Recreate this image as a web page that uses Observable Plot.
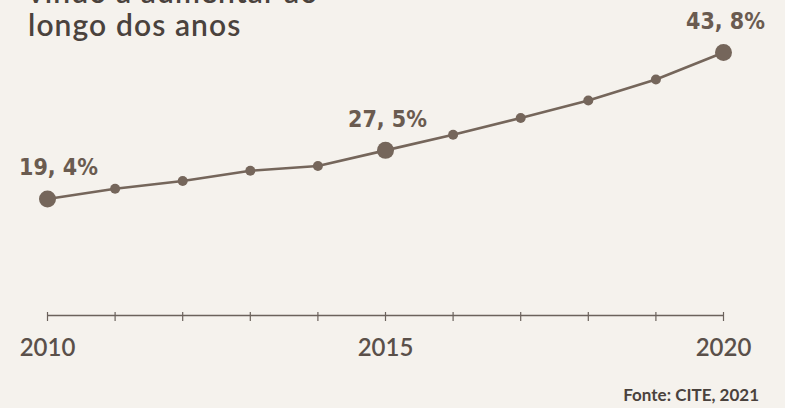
<!DOCTYPE html>
<html>
<head>
<meta charset="utf-8">
<script src="https://cdn.jsdelivr.net/npm/d3@7"></script>
<script src="https://cdn.jsdelivr.net/npm/@observablehq/plot@0.6"></script>
<style>
  html, body { margin: 0; padding: 0; background: #f5f2ed; }
  #wrap { position: relative; width: 785px; height: 408px; overflow: hidden; background: #f5f2ed; }
  #title { position: absolute; left: 28px; top: -25px; font-family: Lato, "Open Sans", sans-serif; font-weight: 600;
           font-size: 30px; line-height: 33px; letter-spacing: 1.1px; color: #4a423d; white-space: nowrap; }
  #caption { position: absolute; right: 26px; top: 384px; font-family: Lato, "Open Sans", sans-serif; font-weight: 700;
             font-size: 17px; color: #4a423d; white-space: nowrap; }
  #chart { position: absolute; left: 0; top: 0; }
</style>
</head>
<body>
<div id="wrap">
  <div id="chart"></div>
  <div id="title">vindo a aumentar ao<br>longo dos anos</div>
  <div id="caption">Fonte: CITE, 2021</div>
</div>
<script>
const years = [2010, 2011, 2012, 2013, 2014, 2015, 2016, 2017, 2018, 2019, 2020];
const values = [19.4, 21.1, 22.4, 24.1, 24.9, 27.5, 30.1, 32.9, 35.8, 39.3, 43.8];
const highlightYears = [2010, 2015, 2020];
const labelTexts = ["19, 4%", "27, 5%", "43, 8%"];
const tickLabels = [2010, 2015, 2020];

const data = years.map((year, i) => ({year, value: values[i]}));
const highlights = highlightYears.map((year, i) => ({year, value: values[years.indexOf(year)], label: labelTexts[i]}));
const minor = data.filter(d => !highlightYears.includes(d.year));

const brown = "#75665b";
const labelColor = "#6a5b50";
const labelFont = '"DejaVu Sans Condensed", "DejaVu Sans", sans-serif';

const chart = Plot.plot({
  width: 785,
  height: 408,
  marginLeft: 47,
  marginRight: 62,
  marginTop: 52,
  marginBottom: 93,
  style: {background: "transparent", fontFamily: "Lato, sans-serif"},
  x: {type: "linear", domain: [2010, 2020], axis: null},
  y: {domain: [0, 43.8], axis: null},
  marks: [
    Plot.ruleY([0], {x1: 2010, x2: 2020, stroke: "#6b625c", strokeWidth: 1.5}),
    Plot.axisX({ticks: years, tickSize: 9, dy: -3, tickFormat: () => "", label: null, stroke: "#6b625c", strokeWidth: 1.2}),
    Plot.axisX({ticks: tickLabels, tickSize: 0, tickPadding: 23, tickFormat: d => String(d), label: null,
                fontSize: 24, fontWeight: 600, fill: "#5a504a", fontFamily: "Lato, sans-serif"}),
    Plot.line(data, {x: "year", y: "value", stroke: brown, strokeWidth: 2.6}),
    Plot.dot(minor, {x: "year", y: "value", r: 5, fill: brown}),
    Plot.dot(highlights, {x: "year", y: "value", r: 8.5, fill: brown}),
    Plot.text(highlights.filter(d => d.year === 2010), {x: "year", y: "value", text: "label", dx: 11, dy: -31,
              fontSize: 23, fontWeight: "bold", fill: labelColor, fontFamily: labelFont}),
    Plot.text(highlights.filter(d => d.year !== 2010), {x: "year", y: "value", text: "label", dx: 2, dy: -31,
              fontSize: 23, fontWeight: "bold", fill: labelColor, fontFamily: labelFont})
  ]
});
document.getElementById("chart").appendChild(chart);
</script>
</body>
</html>
